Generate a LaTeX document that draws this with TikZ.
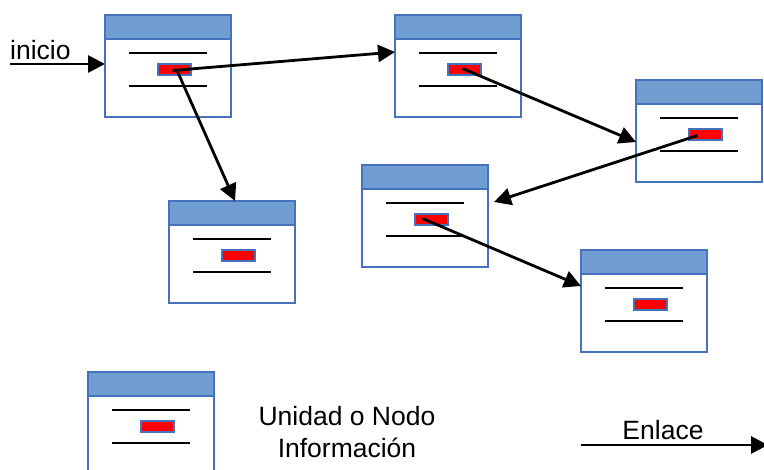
\documentclass[tikz,border=0pt]{standalone}
\usepackage{fontspec}
\setmainfont{Liberation Sans}
\usetikzlibrary{arrows.meta}
\definecolor{hdrfill}{RGB}{112,157,210}
\definecolor{bordc}{RGB}{68,114,190}
\tikzset{
  boxbody/.style={draw=bordc, line width=2pt, fill=white, minimum width=126pt, minimum height=102pt, inner sep=0pt, outer sep=0pt},
  header/.style={fill=hdrfill, draw=bordc, line width=2pt},
  txtline/.style={draw=black, line width=2.4pt},
  redbox/.style={fill=red, draw=bordc, line width=1.5pt, minimum width=33pt, minimum height=11pt, inner sep=0pt},
  link/.style={draw=black, line width=2.8pt, -{Triangle[length=17pt,width=17pt]}},
  lbl/.style={font=\fontsize{26.5}{31}\selectfont, inner sep=0pt},
}
\newcommand\ibox[3]{%
  \node[boxbody, anchor=north west] (#1) at (#2,#3) {};
  \draw[header] (#1.north west) rectangle ([yshift=-24pt]#1.north east);
  \draw[txtline] ([xshift=24pt,yshift=-38pt]#1.north west) -- ([xshift=102pt,yshift=-38pt]#1.north west);
  \draw[txtline] ([xshift=24pt,yshift=-71pt]#1.north west) -- ([xshift=102pt,yshift=-71pt]#1.north west);
  \node[redbox] (#1-r) at ([xshift=69.5pt,yshift=-54.5pt]#1.north west) {};
}
\begin{document}
\begin{tikzpicture}[x=1pt,y=-1pt]
\useasboundingbox (0,0) rectangle (764,470);
\clip (0,0) rectangle (764,470);
\ibox{b1}{105}{15}
\ibox{b2}{395}{15}
\ibox{b3}{636}{80}
\ibox{b4}{362}{165}
\ibox{b5}{169}{201}
\ibox{b6}{581}{250}
\ibox{leg}{88}{372}
% inicio
\node[lbl, anchor=south west] (ini) at (10,60) {inicio};
\coordinate (inistart) at (10,64);
\draw[link] (inistart) -- (b1.west |- inistart);
% links
\draw[link] ([xshift=-2pt,yshift=-1pt]b1-r.center) -- ([yshift=14pt]b2.west);
\draw[link] ([xshift=3pt,yshift=-2pt]b1-r.center) -- ([xshift=3pt]b5.north);
\draw[link] ([xshift=-2pt,yshift=1pt]b2-r.center) -- ([yshift=-11pt]b3.west);
\draw[link] ([xshift=-8pt,yshift=-1pt]b3-r.center) -- ([xshift=6pt,yshift=14pt]b4.east);
\draw[link] ([xshift=-9pt,yshift=1pt]b4-r.center) -- ([yshift=15pt]b6.west);
% legend
\node[lbl, align=center] (legtxt) at (347,432) {Unidad o Nodo\\[1pt]Información};
\coordinate (enA) at (581,445);
\coordinate (enB) at (768,445);
\draw[link] (enA) -- (enB);
\node[lbl] (enl) at (663,430) {Enlace};
\end{tikzpicture}
\end{document}
